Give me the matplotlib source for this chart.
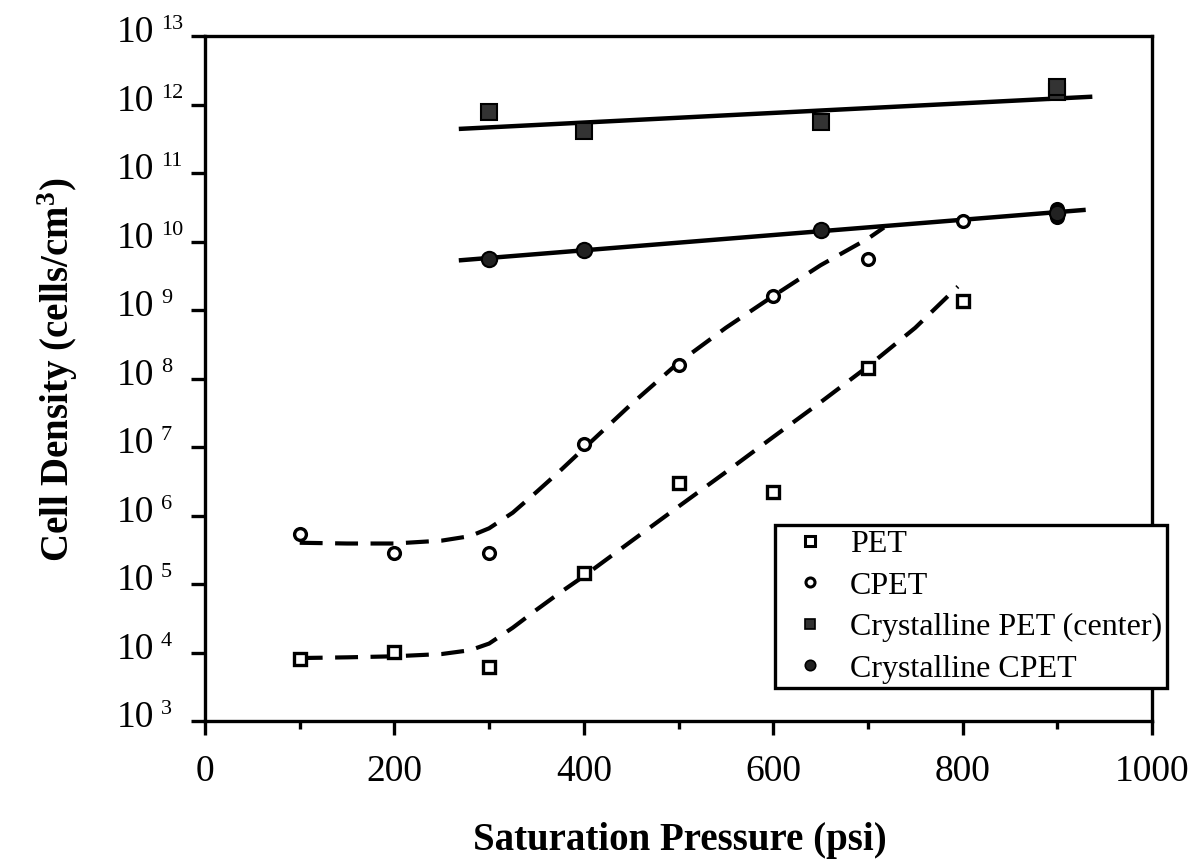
import matplotlib
matplotlib.use("Agg")
import matplotlib.pyplot as plt
from matplotlib.ticker import FixedLocator, NullFormatter, MultipleLocator, FixedFormatter
from matplotlib.lines import Line2D

plt.rcParams['font.family'] = ['Liberation Serif', 'DejaVu Serif']
plt.rcParams['mathtext.fontset'] = 'custom'
plt.rcParams['mathtext.rm'] = 'Liberation Serif'
plt.rcParams['mathtext.bf'] = 'Liberation Serif:bold'

# ---- data ----
pet_x = [100, 200, 300, 400, 500, 600, 700, 800]
pet_y = [8.0e3, 1.02e4, 6.1e3, 1.45e5, 3.0e6, 2.2e6, 1.4e8, 1.35e9]

cpet_x = [100, 200, 300, 400, 500, 600, 700, 800, 900, 900]
cpet_y = [5.4e5, 2.8e5, 2.8e5, 1.1e7, 1.6e8, 1.6e9, 5.5e9, 2.0e10, 2.3e10, 3.0e10]

cpet_center_x = [300, 400, 650, 900, 900]
cpet_center_y = [7.7e11, 4.1e11, 5.5e11, 1.5e12, 1.8e12]

ccpet_x = [300, 400, 650, 900]
ccpet_y = [5.6e9, 7.6e9, 1.45e10, 2.6e10]

# fitted lines
fit_cpc_x = [268, 937]
fit_cpc_y = [4.4e11, 1.3e12]
fit_ccp_x = [268, 930]
fit_ccp_y = [5.3e9, 2.9e10]

curve_cpet_x = [100, 150, 200, 250, 280, 300, 325, 350, 375, 400, 450, 500, 550, 600, 650, 700, 717]
curve_cpet_y = [4.0e5, 3.9e5, 3.9e5, 4.3e5, 5.0e5, 6.5e5, 1.1e6, 2.2e6, 4.5e6, 9.5e6, 4.2e7,
                1.7e8, 5.5e8, 1.6e9, 4.5e9, 1.1e10, 1.6e10]

curve_pet_x = [100, 150, 200, 250, 280, 300, 325, 350, 375, 400, 450, 500, 550, 600, 650, 700, 750, 795]
curve_pet_y = [8.3e3, 8.5e3, 8.8e3, 9.5e3, 1.08e4, 1.35e4, 2.3e4, 4.2e4, 7.5e4, 1.3e5, 4.2e5,
               1.35e6, 4.3e6, 1.4e7, 4.5e7, 1.5e8, 5.5e8, 2.2e9]

ytick_vals = [1e3, 1e4, 1e5, 1e6, 1e7, 1e8, 1e9, 1e10, 1e11, 1e12, 1e13]
ytick_exps = ['3', '4', '5', '6', '7', '8', '9', '10', '11', '12', '13']
xtick_vals = [0, 200, 400, 600, 800, 1000]
xtick_labels = ['0', '200', '400', '600', '800', '1000']

legend_labels = ['PET', 'CPET', 'Crystalline PET (center)', 'Crystalline CPET']

# ---- figure ----
fig = plt.figure(figsize=(12, 8.63), dpi=100)
ax = fig.add_axes([205/1200, 1-721/863, (1152-205)/1200, (721-36)/863])
ax.set_yscale('log')
ax.set_xlim(0, 1000)
ax.set_ylim(1e3, 1e13)

dash = dict(color='black', lw=3.0, dashes=(5.5, 3))
ax.plot(curve_cpet_x, curve_cpet_y, **dash)
ax.plot(curve_pet_x, curve_pet_y, **dash)
ax.plot(fit_cpc_x, fit_cpc_y, color='black', lw=3.2, solid_capstyle='butt')
ax.plot(fit_ccp_x, fit_ccp_y, color='black', lw=3.2, solid_capstyle='butt')

ax.plot(pet_x, pet_y, ls='none', marker='s', ms=8.5, mfc='white', mec='black', mew=2.4)
ax.plot(cpet_x, cpet_y, ls='none', marker='o', ms=8.5, mfc='white', mec='black', mew=2.4)
ax.plot(cpet_center_x, cpet_center_y, ls='none', marker='s', ms=11, mfc='#333333', mec='black', mew=1.5)
ax.plot(ccpet_x, ccpet_y, ls='none', marker='o', ms=11, mfc='#222222', mec='black', mew=1.5)

for s in ax.spines.values():
    s.set_linewidth(2.4)

ax.yaxis.set_major_locator(FixedLocator(ytick_vals))
ax.yaxis.set_major_formatter(NullFormatter())
ax.yaxis.set_minor_locator(FixedLocator([]))
ax.xaxis.set_major_locator(FixedLocator(xtick_vals))
ax.xaxis.set_major_formatter(FixedFormatter(xtick_labels))
ax.xaxis.set_minor_locator(MultipleLocator(100))
ax.tick_params(axis='both', which='major', direction='out', length=10, width=2.4)
ax.tick_params(axis='x', which='major', labelsize=27, pad=14)
ax.tick_params(axis='x', which='minor', direction='out', length=6, width=2.4)

# y tick labels: "10" with a small raised exponent, left aligned as in the original
ytr = ax.get_yaxis_transform()
for v, e in zip(ytick_vals, ytick_exps):
    ax.annotate('10', xy=(0, v), xycoords=ytr, xytext=(-88 * 0.72, -6 * 0.72),
                textcoords='offset points', ha='left', va='baseline', fontsize=27,
                annotation_clip=False)
    ax.annotate(e, xy=(0, v), xycoords=ytr, xytext=(-44 * 0.72, 7 * 0.72),
                textcoords='offset points', ha='left', va='baseline', fontsize=16,
                annotation_clip=False)

fig.text(680/1200, 13/863, 'Saturation Pressure (psi)', fontsize=28, fontweight='bold',
         ha='center', va='baseline')
fig.text(58/1200, 1-370/863, r'Cell Density (cells/cm$\mathregular{^3}$)', fontsize=28,
         fontweight='bold', rotation=90, ha='center', va='center')

handles = [
    Line2D([], [], ls='none', marker='s', ms=6.5, mfc='white', mec='black', mew=2.2),
    Line2D([], [], ls='none', marker='o', ms=6.5, mfc='white', mec='black', mew=2.2),
    Line2D([], [], ls='none', marker='s', ms=7.5, mfc='#333333', mec='black', mew=1.2),
    Line2D([], [], ls='none', marker='o', ms=7.5, mfc='#222222', mec='black', mew=1.2),
]
leg = fig.legend(handles, legend_labels, loc='upper left',
                 bbox_to_anchor=(775/1200, 1-525/863), bbox_transform=fig.transFigure,
                 fontsize=23, frameon=True, fancybox=False, edgecolor='black', framealpha=1,
                 handlelength=1.9, handletextpad=0.3, labelspacing=0.38, borderpad=0.15,
                 borderaxespad=0)
leg.get_frame().set_linewidth(2.4)

fig.savefig('out.png', dpi=100)
